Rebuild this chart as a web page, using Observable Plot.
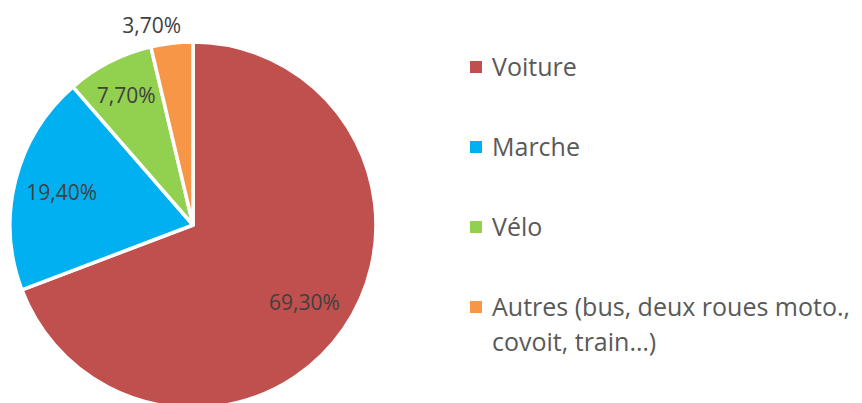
<!DOCTYPE html>
<html>
<head>
<meta charset="utf-8">
<script src="https://cdn.jsdelivr.net/npm/d3@7"></script>
<script src="https://cdn.jsdelivr.net/npm/@observablehq/plot@0.6"></script>
<style>
  html, body { margin: 0; padding: 0; background: #fff; overflow: hidden; }
  #wrap { position: relative; width: 862px; height: 403px; }
  #chart { position: absolute; left: 0; top: 0; }
  #legend { position: absolute; left: 470px; top: 0; font-family: "Open Sans", sans-serif; font-size: 25px; color: #595959; }
  .item { position: absolute; left: 0; white-space: nowrap; line-height: 35px; }
  .sw { position: absolute; left: 0; top: 12px; width: 12px; height: 12px; }
  .lab { position: absolute; left: 22px; top: 0; }
</style>
</head>
<body>
<div id="wrap"><div id="chart"></div><div id="legend"></div></div>
<script>
const categories = ["Voiture", "Marche", "Vélo", "Autres (bus, deux roues moto., covoit, train…)"];
const values = [69.3, 19.4, 7.7, 3.7];
const labels = ["69,30%", "19,40%", "7,70%", "3,70%"];
const colors = ["#C0504D", "#00B0F0", "#92D050", "#F79646"];

const data = categories.map((c, i) => ({category: c, value: values[i], label: labels[i], color: colors[i]}));
const arcs = d3.pie().sort(null).value(d => d.value)(data);

const cx = 193, cy = 225, R = 183;

function pieMark(index, scales) {
  const x = scales.x, y = scales.y;
  const x0 = x(0), y0 = y(0), r = Math.abs(x(1) - x(0));
  const g = d3.create("svg:g");
  const arc = d3.arc().innerRadius(0).outerRadius(r);
  g.selectAll("path").data(arcs).join("path")
    .attr("transform", `translate(${x0},${y0})`)
    .attr("d", arc)
    .attr("fill", d => d.data.color)
    .attr("stroke", "#fff")
    .attr("stroke-width", 3.5)
    .attr("stroke-linejoin", "round");
  const outside = d => d.data.value < 5;
  const k = d => outside(d) ? 1.1 : (d.data.value < 10 ? 0.8 : 0.74);
  const mid = d => (d.startAngle + d.endAngle) / 2;
  g.selectAll("text").data(arcs).join("text")
    .attr("x", d => x0 + Math.sin(mid(d)) * r * k(d))
    .attr("y", d => y0 - Math.cos(mid(d)) * r * k(d))
    .attr("dx", d => outside(d) ? (Math.sin(mid(d)) < 0 ? -18 : 18) : 0)
    .attr("text-anchor", "middle")
    .attr("dominant-baseline", "central")
    .attr("font-family", "'Open Sans', sans-serif")
    .attr("font-size", 21)
    .attr("fill", "#404040")
    .text(d => d.data.label);
  return g.node();
}

const plot = Plot.plot({
  width: 440,
  height: 403,
  margin: 0,
  x: {domain: [-1, 1], range: [cx - R, cx + R], axis: null},
  y: {domain: [-1, 1], range: [cy + R, cy - R], axis: null},
  style: {overflow: "hidden", background: "#fff"},
  marks: [pieMark]
});
document.getElementById("chart").appendChild(plot);

const legend = d3.select("#legend");
const tops = [49, 129, 209, 289];
const lines = [["Voiture"], ["Marche"], ["Vélo"], ["Autres (bus, deux roues moto.,", "covoit, train…)"]];
data.forEach((d, i) => {
  const it = legend.append("div").attr("class", "item").style("top", tops[i] + "px");
  it.append("div").attr("class", "sw").style("background", d.color);
  it.append("div").attr("class", "lab").html(lines[i].join("<br>"));
});
</script>
</body>
</html>
